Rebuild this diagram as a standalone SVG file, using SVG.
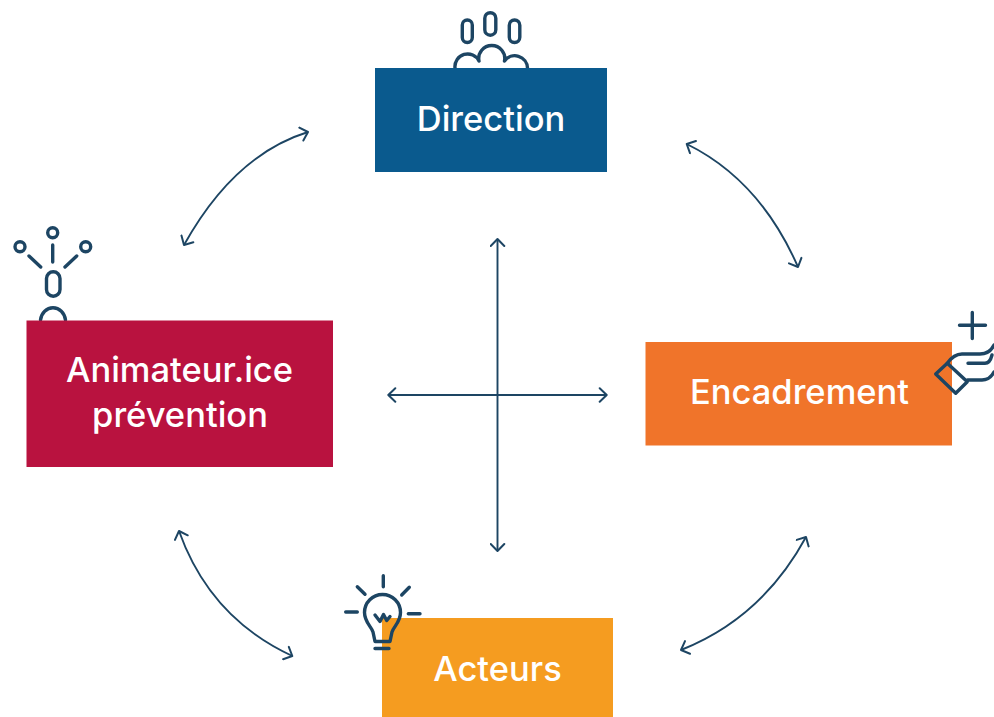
<svg xmlns="http://www.w3.org/2000/svg" width="994" height="717" viewBox="0 0 994 717">
<style>
.lbl{font-family:"Inter","Liberation Sans",sans-serif;font-weight:500;fill:#fff;text-anchor:middle;font-size:34.500px}
.ico{fill:none;stroke:#1d4563;stroke-width:3.4;stroke-linecap:round;stroke-linejoin:round}
.con{fill:none;stroke:#1d4563;stroke-width:1.9;marker-start:url(#a);marker-end:url(#a)}
</style>
<defs>
<marker id="a" viewBox="-10 -8 12 16" refX="0" refY="0" markerWidth="12" markerHeight="16" markerUnits="userSpaceOnUse" orient="auto-start-reverse">
<path d="M-7-6.800L0 0L-7 6.800" fill="none" stroke="#1d4563" stroke-width="2" stroke-linecap="round" stroke-linejoin="round"/>
</marker>
</defs>
<rect width="994" height="717" fill="#fff"/>
<g id="connectors">
<path class="con" d="M308 132Q234 155 184 245"/>
<path class="con" d="M686.700 144Q760 180 798 267"/>
<path class="con" d="M806 537Q762 618 681 650"/>
<path class="con" d="M179 531Q210 618 292.300 656"/>
<path class="con" d="M497.500 239V551"/>
<path class="con" d="M388.300 395H606.700"/>
</g>
<g id="direction">
<g class="ico">
<rect x="462.300" y="20" width="10" height="22.500" rx="5"/>
<rect x="484.800" y="12.700" width="11" height="22.500" rx="5.500"/>
<rect x="509.300" y="20" width="10.500" height="22.500" rx="5.200"/>
<path d="M455 68A12.700 12.700 0 0 1 479 61M479 61A13 13 0 1 1 504.500 61M504.500 61A12.700 12.700 0 0 1 527.500 68"/>
</g>
<rect x="375" y="68" width="232" height="104" fill="#0a5a8e"/>
<text class="lbl" x="491" y="131">Direction</text>
</g>
<g id="animateur">
<g class="ico">
<circle cx="52.700" cy="232.700" r="5"/>
<circle cx="20" cy="246.700" r="5"/>
<circle cx="85.700" cy="246.700" r="5"/>
<path d="M52.700 245V262M29 256L40.700 267M76.700 256L65 267"/>
<rect x="46.500" y="271.700" width="13.500" height="24.500" rx="6.750"/>
<path d="M40.500 320A12.600 14 0 0 1 65.500 320"/>
</g>
<rect x="26.500" y="320.500" width="306.500" height="146.500" fill="#b9123f"/>
<text class="lbl" x="179.500" y="382">Animateur.ice</text>
<text class="lbl" x="180" y="427">prévention</text>
</g>
<g id="encadrement">
<rect x="645.500" y="342" width="306.500" height="103.500" fill="#f0742a"/>
<text class="lbl" x="799.500" y="404">Encadrement</text>
<g class="ico">
<path d="M972.300 312.500V338.500M959.500 325.300H985.500"/>
<path d="M935.700 374L947.300 363.300L967.300 381.700L955.700 393.300Z"/>
<path d="M947.300 363.300C951 358 955 354 962 354H980C987 354 991 351 994 345"/>
<path d="M967.500 380H982C988 380 992 376 994 372M968 363.300H985C989 363.300 991 359 992 355"/>
</g>
</g>
<g id="acteurs">
<rect x="382" y="618" width="231" height="99" fill="#f59c20"/>
<text class="lbl" x="497.500" y="680.500">Acteurs</text>
<g class="ico">
<path d="M383.300 575.700V586.700M357.300 586.700L365 594.300M409.300 587.300L401.700 595M345.700 612H357.300M408.300 613.700H420"/>
<path d="M375 641.500L373 632C371 626 364.500 622 364.500 612.500A18 18 0 0 1 400.500 612.500C400.500 622 394 626 392 632L390 641.500Z"/>
<path d="M375 648.500H389M375 615L380 621.500L383.500 614.500L386.700 620.500L390 616.500"/>
</g>
</g>
</svg>
